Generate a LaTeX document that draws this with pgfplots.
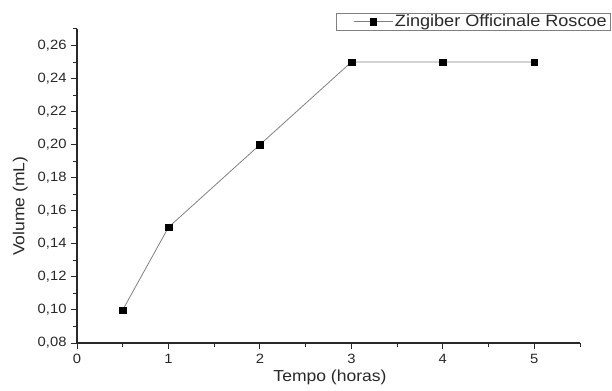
\documentclass[border=0pt]{standalone}
\usepackage{pgfplots}
\pgfplotsset{compat=1.18}
\usepackage{fontspec}
\setmainfont[FakeStretch=1.1]{Liberation Sans}
\definecolor{txt}{HTML}{282828}
\definecolor{ln}{HTML}{808080}
\begin{document}
\begin{tikzpicture}[x=1bp,y=1bp]
\useasboundingbox (0,0) rectangle (612,390);
\begin{axis}[
  at={(77bp,47bp)}, anchor=south west,
  scale only axis, width=503bp, height=314bp,
  xmin=0, xmax=5.5, ymin=0.08, ymax=0.27,
  axis x line*=bottom, axis y line*=left,
  axis line style={line width=1.2pt, color=txt, -},
  xtick={0,1,2,3,4,5}, minor xtick={0.5,1.5,2.5,3.5,4.5,5.5},
  ytick={0.08,0.10,...,0.27}, minor ytick={0.09,0.11,...,0.27},
  tick align=outside,
  major tick length=6bp, minor tick length=4bp,
  tick style={line width=1pt, color=txt},
  xticklabel style={font=\fontsize{13.5}{15}\selectfont, color=txt, yshift=-2bp},
  yticklabel style={font=\fontsize{13.5}{15}\selectfont, color=txt, xshift=-1bp, /pgf/number format/.cd, fixed, fixed zerofill, precision=2, use comma},
  xticklabel style={/pgf/number format/.cd, use comma},
  /pgf/number format/assume math mode=true,
  xlabel={Tempo (horas)}, ylabel={Volume (mL)},
  label style={font=\fontsize{16}{18}\selectfont, color=txt},
  xlabel style={at={(axis description cs:0.503,-0.111)}, anchor=center},
  ylabel style={at={(axis description cs:-0.113,0.436)}, anchor=center, rotate=0},
  legend style={at={(axis description cs:1.0616,1.052)}, anchor=north east,
    font=\fontsize{16.5}{17}\selectfont, text=txt, draw=ln, line width=0.6pt,
    inner xsep=2bp, inner ysep=0bp,
    nodes={inner sep=2bp}},
  legend image code/.code={%
    \path[draw=none, fill=none] (0bp,0bp);
    \draw[#1, mark repeat=2, mark phase=2] plot coordinates {(15bp,0bp) (34.5bp,0bp) (54bp,0bp)};},
  legend cell align=left,
  clip=false,
]
\addplot[color=ln, line width=0.8pt, mark=square*, mark size=3.3bp,
  mark options={fill=black, draw=black, line width=0.3pt}]
  coordinates {(0.5,0.10) (1,0.15) (2,0.20) (3,0.25) (4,0.25) (5,0.25)};
\addlegendentry{Zingiber Officinale Roscoe}
\end{axis}
\end{tikzpicture}
\end{document}
